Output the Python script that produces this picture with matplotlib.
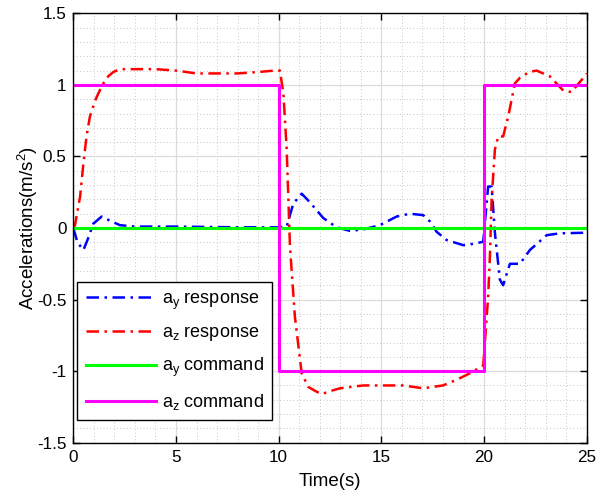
import numpy as np
import matplotlib
matplotlib.use("Agg")
import matplotlib.pyplot as plt
from matplotlib.ticker import MultipleLocator, FuncFormatter

plt.rcParams['font.family'] = ['Liberation Sans', 'DejaVu Sans']
plt.rcParams['mathtext.fontset'] = 'custom'
plt.rcParams['mathtext.rm'] = 'Liberation Sans'
plt.rcParams['mathtext.it'] = 'Liberation Sans'
plt.rcParams['mathtext.default'] = 'rm'
plt.rcParams['axes.unicode_minus'] = False

# lateral acceleration response a_y
t_ay = [0, 0.2, 0.49, 0.7, 0.97, 1.38, 1.8, 2.27, 3, 5, 8, 10, 10.39, 10.71,
        11.12, 11.52, 12.17, 12.82, 13.47, 14.12, 14.93, 15.74, 16.39, 17.04,
        17.37, 17.69, 18.18, 18.99, 19.5, 19.96, 20.2, 20.37, 20.53, 20.77,
        20.93, 21.26, 21.75, 22.23, 23.05, 23.7, 24.9, 25]
ay_resp = [0, -0.1, -0.154, -0.08, 0.03, 0.08, 0.05, 0.02, 0.01, 0.01, 0.005,
           0.005, 0.01, 0.17, 0.24, 0.18, 0.07, 0.005, -0.02, -0.01, 0.02,
           0.08, 0.10, 0.09, 0.045, -0.026, -0.084, -0.12, -0.11, -0.096,
           0.29, 0.29, -0.035, -0.36, -0.40, -0.25, -0.25, -0.154, -0.05,
           -0.037, -0.033, -0.03]

# normal acceleration response a_z
t_az = [0, 0.08, 0.33, 0.49, 0.65, 0.81, 1.06, 1.25, 1.46, 1.7, 1.95, 2.27,
        3, 4, 5, 6, 7, 8, 9, 9.8, 10.06, 10.23, 10.39, 10.55, 10.79, 11.12,
        11.44, 11.8, 12.09, 12.5, 12.98, 13.5, 14.12, 15, 16.07, 17.04, 17.5,
        18.0, 18.67, 19.31, 19.96, 20.13, 20.2, 20.29, 20.37, 20.53, 20.69,
        20.93, 21.18, 21.5, 21.75, 22.2, 22.56, 23.2, 23.86, 24.26, 24.9, 25]
az_resp = [0, 0.02, 0.22, 0.45, 0.65, 0.78, 0.89, 0.95, 1.01, 1.06, 1.09,
           1.11, 1.11, 1.11, 1.10, 1.08, 1.08, 1.08, 1.09, 1.10, 1.10, 0.94,
           0.55, -0.13, -0.62, -1.015, -1.11, -1.14, -1.16, -1.14, -1.12,
           -1.11, -1.10, -1.10, -1.10, -1.12, -1.11, -1.10, -1.06, -1.015,
           -0.96, -0.62, -0.48, -0.18, 0.2, 0.55, 0.64, 0.64, 0.78, 1.01,
           1.05, 1.09, 1.10, 1.06, 0.96, 0.95, 1.06, 1.08]

# step commands
t_cmd = [0, 10, 20, 25]
ay_cmd = [0, 0, 0, 0]
az_cmd = [1, -1, 1, 1]

fig = plt.figure(figsize=(6.08, 4.99), dpi=100)
ax = fig.add_axes([0.1206, 0.1128, 0.8444, 0.8605])

dash = (5, 2.2, 1, 2.2)
ax.plot(t_ay, ay_resp, color='#0000ff', lw=1.8, dashes=dash,
        label='a$_y$ response')
ax.plot(t_az, az_resp, color='#ff0000', lw=1.8, dashes=dash,
        label='a$_z$ response')
ax.plot(t_cmd, ay_cmd, color='#00ff00', lw=2.2, drawstyle='steps-post',
        label='a$_y$ command')
ax.plot(t_cmd, az_cmd, color='#ff00ff', lw=2.2, drawstyle='steps-post',
        label='a$_z$ command')

ax.set_xlim(0, 25)
ax.set_ylim(-1.5, 1.5)
ax.xaxis.set_major_locator(MultipleLocator(5))
ax.xaxis.set_minor_locator(MultipleLocator(1))
ax.yaxis.set_major_locator(MultipleLocator(0.5))
ax.yaxis.set_minor_locator(MultipleLocator(0.1))
fmt = FuncFormatter(lambda v, pos: '%g' % v)
ax.xaxis.set_major_formatter(fmt)
ax.yaxis.set_major_formatter(fmt)
ax.grid(which='major', color='#dcdcdc', lw=0.9, ls='-')
ax.grid(which='minor', color='#b4b4b4', lw=0.6, ls=(0, (1, 3)))
ax.set_axisbelow(True)
ax.tick_params(which='major', direction='in', length=5, width=1,
               top=True, right=True, labelsize=12.3, pad=5)
ax.tick_params(which='minor', length=0)
for s in ax.spines.values():
    s.set_linewidth(1)

ax.set_xlabel('Time(s)', fontsize=13.5, labelpad=6)
ax.set_ylabel('Accelerations(m/s$^2$)', fontsize=13.5, labelpad=-2)

leg = ax.legend(loc='lower left', bbox_to_anchor=(0.008, 0.053),
                borderaxespad=0, fontsize=13, fancybox=False, framealpha=1,
                edgecolor='black', handlelength=3.9, handletextpad=0.35,
                labelspacing=0.7, borderpad=0.45)
leg.get_frame().set_linewidth(1)

fig.savefig('out.png', dpi=100)
